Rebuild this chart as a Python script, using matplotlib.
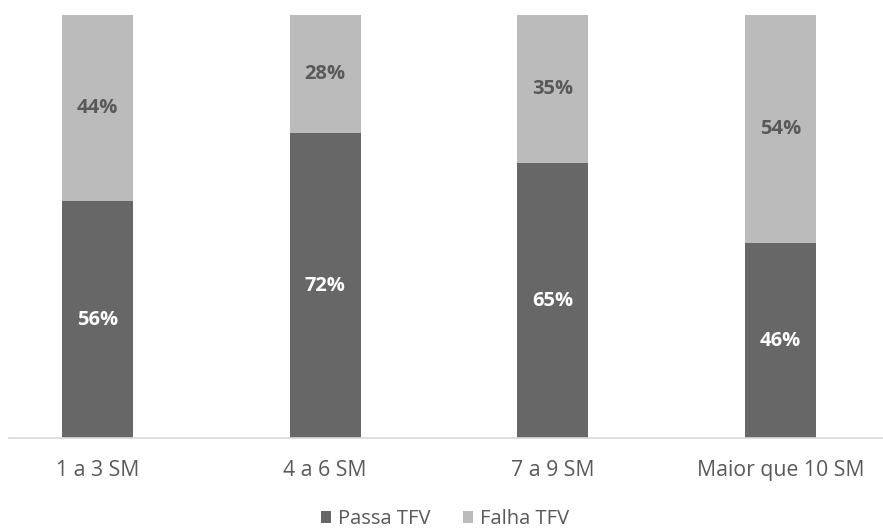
import numpy as np
import matplotlib
matplotlib.use("Agg")
import matplotlib.pyplot as plt

plt.rcParams['font.family'] = ['Open Sans', 'DejaVu Sans']

categorias = ['1 a 3 SM', '4 a 6 SM', '7 a 9 SM', 'Maior que 10 SM']
passa = [56, 72, 65, 46]
falha = [44, 28, 35, 54]

cor_passa = '#676767'
cor_falha = '#BBBBBB'
cor_texto = '#595959'

fig = plt.figure(figsize=(8.83, 5.31), dpi=100)
ax = fig.add_axes([9 / 883, 93 / 531, 874 / 883, 423 / 531])

x = np.arange(len(categorias))
largura = 0.312
passa_f = np.array(passa) / 100
falha_f = np.array(falha) / 100

b1 = ax.bar(x, passa_f, largura, color=cor_passa, label='Passa TFV')
b2 = ax.bar(x, falha_f, largura, bottom=passa_f, color=cor_falha, label='Falha TFV')

# rótulos de percentagem no meio de cada segmento
for i in range(len(categorias)):
    ax.text(x[i], passa_f[i] / 2, f'{passa[i]}%', ha='center', va='center',
            color='white', fontsize=14.5, fontweight='bold')
    ax.text(x[i], passa_f[i] + falha_f[i] / 2, f'{falha[i]}%', ha='center', va='center',
            color=cor_texto, fontsize=14.5, fontweight='bold')

ax.set_xlim(-0.389, 3.45)
ax.set_ylim(0, 1.0)
ax.set_xticks(x)
ax.set_xticklabels(categorias, fontsize=15.3, color=cor_texto)
ax.tick_params(axis='x', length=0, pad=16)
ax.set_yticks([])
for s in ['top', 'left', 'right']:
    ax.spines[s].set_visible(False)
ax.spines['bottom'].set_color('#D9D9D9')
ax.spines['bottom'].set_linewidth(1.2)

leg = fig.legend(handles=[b1, b2], loc='center', bbox_to_anchor=(445 / 883, 12 / 531),
                 ncol=2, frameon=False, fontsize=14.5, handlelength=0.5, handleheight=0.5,
                 handletextpad=0.35, columnspacing=1.6, borderpad=0.1)
for t in leg.get_texts():
    t.set_color(cor_texto)

fig.savefig('out.png', dpi=100)
